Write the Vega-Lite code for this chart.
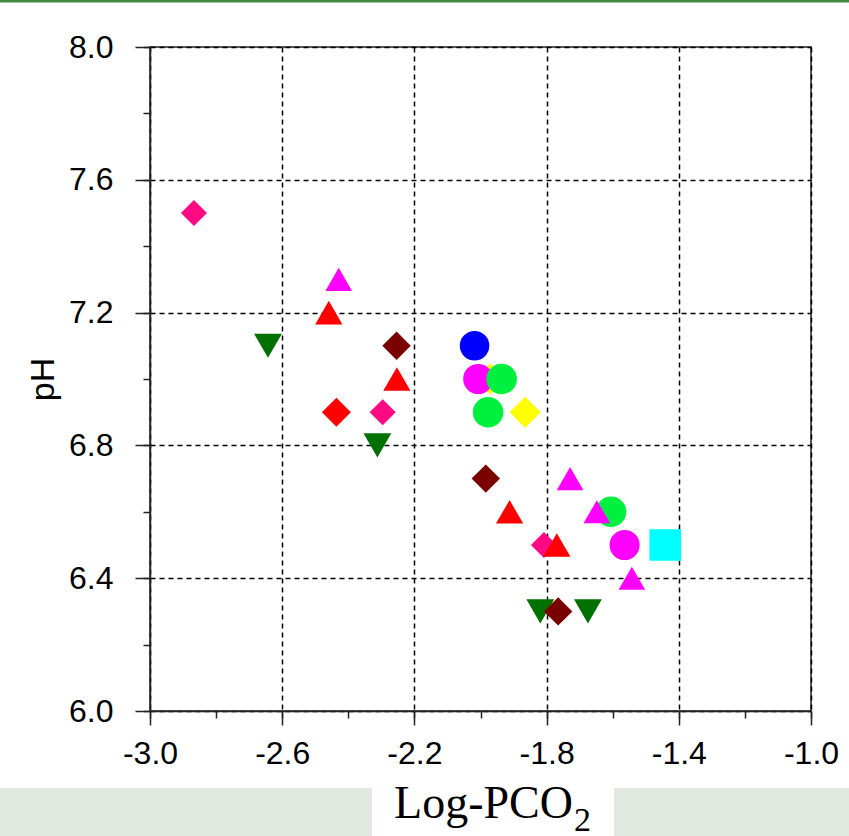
{
  "$schema": "https://vega.github.io/schema/vega-lite/v6.json",
  "autosize": {"type": "none"},
  "width": 661,
  "height": 664,
  "padding": {"left": 150, "top": 47, "right": 38, "bottom": 125},
  "background": "white",
  "config": {
    "view": {"stroke": "#222222", "strokeWidth": 1.5},
    "axis": {
      "labelFont": "Liberation Sans",
      "titleFont": "Liberation Sans",
      "labelColor": "#000000",
      "titleColor": "#000000",
      "tickColor": "#222222",
      "domainColor": "#222222",
      "domainWidth": 1.5,
      "tickWidth": 1.5
    }
  },
  "data": {
    "values": [
      {"series": "J", "lpco2": -1.97, "ph": 7.0},
      {"series": "J", "lpco2": -1.865, "ph": 6.9},
      {"series": "G", "lpco2": -2.018, "ph": 7.1},
      {"series": "H", "lpco2": -2.007, "ph": 7.0},
      {"series": "H", "lpco2": -1.564, "ph": 6.5},
      {"series": "I", "lpco2": -1.936, "ph": 7.0},
      {"series": "I", "lpco2": -1.977, "ph": 6.9},
      {"series": "I", "lpco2": -1.605, "ph": 6.6},
      {"series": "A", "lpco2": -2.867, "ph": 7.5},
      {"series": "A", "lpco2": -2.296, "ph": 6.9},
      {"series": "A", "lpco2": -1.808, "ph": 6.5},
      {"series": "F", "lpco2": -2.436, "ph": 6.9},
      {"series": "D", "lpco2": -2.643, "ph": 7.1},
      {"series": "D", "lpco2": -2.312, "ph": 6.8},
      {"series": "D", "lpco2": -1.819, "ph": 6.3},
      {"series": "D", "lpco2": -1.675, "ph": 6.3},
      {"series": "E", "lpco2": -2.254, "ph": 7.1},
      {"series": "E", "lpco2": -1.984, "ph": 6.7},
      {"series": "E", "lpco2": -1.765, "ph": 6.3},
      {"series": "B", "lpco2": -2.429, "ph": 7.3},
      {"series": "B", "lpco2": -1.729, "ph": 6.7},
      {"series": "B", "lpco2": -1.648, "ph": 6.6},
      {"series": "B", "lpco2": -1.542, "ph": 6.4},
      {"series": "C", "lpco2": -2.459, "ph": 7.2},
      {"series": "C", "lpco2": -2.253, "ph": 7.0},
      {"series": "C", "lpco2": -1.912, "ph": 6.6},
      {"series": "C", "lpco2": -1.769, "ph": 6.5},
      {"series": "K", "lpco2": -1.441, "ph": 6.5}
    ]
  },
  "resolve": {
    "scale": {"x": "shared", "y": "shared"},
    "axis": {"x": "independent", "y": "independent"}
  },
  "layer": [
    {
      "data": {"values": [{}]},
      "mark": {"type": "rect", "color": "#E1E9E1", "clip": false},
      "encoding": {
        "x": {
          "datum": -3.6,
          "type": "quantitative",
          "scale": {"domain": [-3, -1], "nice": false, "zero": false},
          "axis": {
            "orient": "bottom",
            "values": [-3.0, -2.8, -2.6, -2.4, -2.2, -2.0, -1.8, -1.6, -1.4, -1.2, -1.0],
            "labels": false,
            "grid": false,
            "domain": false,
            "tickSize": 7,
            "title": null
          }
        },
        "x2": {"datum": -0.7},
        "y": {
          "datum": 5.768,
          "type": "quantitative",
          "scale": {"domain": [6, 8], "nice": false, "zero": false},
          "axis": {
            "orient": "left",
            "values": [6.0, 6.2, 6.4, 6.6, 6.8, 7.0, 7.2, 7.4, 7.6, 7.8, 8.0],
            "labels": false,
            "grid": false,
            "domain": false,
            "tickSize": 7,
            "title": null
          }
        },
        "y2": {"datum": 5.5}
      }
    },
    {
      "data": {"values": [{}]},
      "mark": {"type": "rect", "color": "white", "clip": false},
      "encoding": {
        "x": {"datum": -2.3283, "type": "quantitative", "axis": null},
        "x2": {"datum": -1.5961},
        "y": {"datum": 5.768, "type": "quantitative", "axis": null},
        "y2": {"datum": 5.5}
      }
    },
    {
      "data": {"values": [{}]},
      "mark": {"type": "rect", "color": "#3E8B3E", "clip": false},
      "encoding": {
        "x": {"datum": -3.6, "type": "quantitative", "axis": null},
        "x2": {"datum": -0.7},
        "y": {"datum": 8.2, "type": "quantitative", "axis": null},
        "y2": {"datum": 8.134}
      }
    },
    {
      "mark": {"type": "point", "filled": true, "opacity": 1, "strokeWidth": 0},
      "encoding": {
        "x": {
          "field": "lpco2",
          "type": "quantitative",
          "axis": {
            "orient": "bottom",
            "values": [-3.0, -2.6, -2.2, -1.8, -1.4, -1.0],
            "labelExpr": "(datum.value < 0 ? '-' : '') + format(abs(datum.value), '.1f')",
            "labelFontSize": 32,
            "labelPadding": 13,
            "labelFlush": false,
            "labelOverlap": false,
            "tickSize": 14,
            "grid": true,
            "gridColor": "#000000",
            "gridDash": [5, 4],
            "gridWidth": 1.5,
            "title": null
          }
        },
        "y": {
          "field": "ph",
          "type": "quantitative",
          "axis": {
            "orient": "left",
            "values": [6.0, 6.4, 6.8, 7.2, 7.6, 8.0],
            "format": ".1f",
            "labelFontSize": 32,
            "labelPadding": 22,
            "labelFlush": false,
            "labelOverlap": false,
            "tickSize": 15,
            "grid": true,
            "gridColor": "#000000",
            "gridDash": [5, 4],
            "gridWidth": 1.5,
            "title": "pH",
            "titleFontSize": 34,
            "titleFontWeight": "normal",
            "titlePadding": 8
          }
        },
        "color": {
          "field": "series",
          "type": "nominal",
          "legend": null,
          "scale": {
            "domain": ["A", "B", "C", "D", "E", "F", "G", "H", "I", "J", "K"],
            "range": ["#FF0A82", "#FF00FF", "#FF0000", "#007000", "#7A0000", "#FF0000", "#0000FF", "#FF00FF", "#00F040", "#FFFF00", "#00FFFF"]
          }
        },
        "shape": {
          "field": "series",
          "type": "nominal",
          "legend": null,
          "scale": {
            "domain": ["A", "B", "C", "D", "E", "F", "G", "H", "I", "J", "K"],
            "range": ["diamond", "triangle-up", "triangle-up", "triangle-down", "diamond", "diamond", "circle", "circle", "circle", "diamond", "square"]
          }
        },
        "size": {
          "field": "series",
          "type": "nominal",
          "legend": null,
          "scale": {
            "domain": ["A", "B", "C", "D", "E", "F", "G", "H", "I", "J", "K"],
            "range": [680, 1000, 1000, 950, 680, 680, 576, 576, 576, 680, 576]
          }
        }
      }
    },
    {
      "data": {"values": [{}]},
      "mark": {"type": "text", "text": "Log-PCO", "font": "Liberation Serif", "fontSize": 46, "align": "right", "baseline": "alphabetic", "color": "#000000", "clip": false},
      "encoding": {
        "x": {"datum": -1.7201, "type": "quantitative", "axis": null},
        "y": {"datum": 5.6777, "type": "quantitative", "axis": null}
      }
    },
    {
      "data": {"values": [{}]},
      "mark": {"type": "text", "text": "2", "font": "Liberation Serif", "fontSize": 34, "align": "left", "baseline": "alphabetic", "color": "#000000", "clip": false},
      "encoding": {
        "x": {"datum": -1.7171, "type": "quantitative", "axis": null},
        "y": {"datum": 5.6385, "type": "quantitative", "axis": null}
      }
    }
  ]
}
